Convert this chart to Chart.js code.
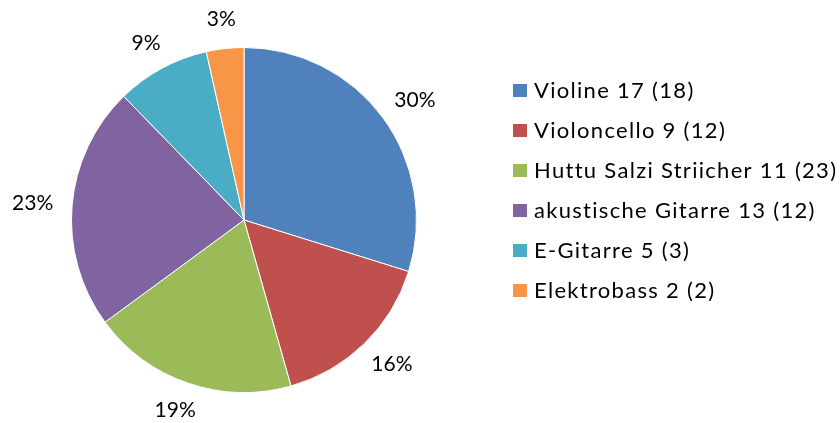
<!DOCTYPE html>
<html>
<head>
<meta charset="utf-8">
<script src="https://cdn.jsdelivr.net/npm/chart.js@4.4.1/dist/chart.umd.min.js"></script>
<style>
  html, body { margin: 0; padding: 0; background: #fff; }
  #wrap { width: 840px; height: 423px; }
</style>
</head>
<body>
<div id="wrap"><canvas id="myChart"></canvas></div>
<script>
const categories = [
  "Violine 17 (18)",
  "Violoncello 9 (12)",
  "Huttu Salzi Striicher 11 (23)",
  "akustische Gitarre 13 (12)",
  "E-Gitarre 5 (3)",
  "Elektrobass 2 (2)"
];
const counts = [17, 9, 11, 13, 5, 2];
const percentLabels = ["30%", "16%", "19%", "23%", "9%", "3%"];
const colors = ["#4F81BD", "#C0504D", "#9BBB59", "#8064A2", "#4BACC6", "#F79646"];

const fontFamily = "Lato, 'Open Sans', sans-serif";

// percent labels outside each slice, plus a hand drawn legend on the right
const outsideLabels = {
  id: "outsideLabels",
  afterDraw(chart) {
    const ctx = chart.ctx;
    const meta = chart.getDatasetMeta(0);
    ctx.save();
    ctx.fillStyle = "#000";
    ctx.font = "21px " + fontFamily;
    ctx.textAlign = "center";
    ctx.textBaseline = "middle";
    meta.data.forEach((arc, i) => {
      const mid = (arc.startAngle + arc.endAngle) / 2;
      const dx = Math.cos(mid), dy = Math.sin(mid);
      const txt = percentLabels[i];
      const w = ctx.measureText(txt).width;
      const h = 20;
      const r = arc.outerRadius + 19;
      const x = arc.x + dx * r + dx * w / 2;
      const y = arc.y + dy * r + dy * h / 2;
      ctx.fillText(txt, x, y);
    });

    ctx.font = "22px " + fontFamily;
    ctx.letterSpacing = "1.3px";
    ctx.textAlign = "left";
    categories.forEach((name, i) => {
      const y = 90 + i * 40;
      ctx.fillStyle = colors[i];
      ctx.fillRect(513, y - 6, 14, 13);
      ctx.fillStyle = "#000";
      ctx.fillText(name, 534, y + 1);
    });
    ctx.restore();
  }
};

const config = {
  type: "pie",
  data: {
    labels: categories,
    datasets: [{
      data: counts,
      backgroundColor: colors,
      borderColor: "#ffffff",
      borderWidth: 1
    }]
  },
  options: {
    responsive: true,
    maintainAspectRatio: false,
    animation: false,
    layout: {
      padding: { left: 71, right: 423, top: 47, bottom: 30 }
    },
    plugins: {
      legend: { display: false },
      tooltip: { enabled: false }
    }
  },
  plugins: [outsideLabels]
};

const ctx = document.getElementById("myChart");
const myChart = new Chart(ctx, config);
</script>
</body>
</html>
